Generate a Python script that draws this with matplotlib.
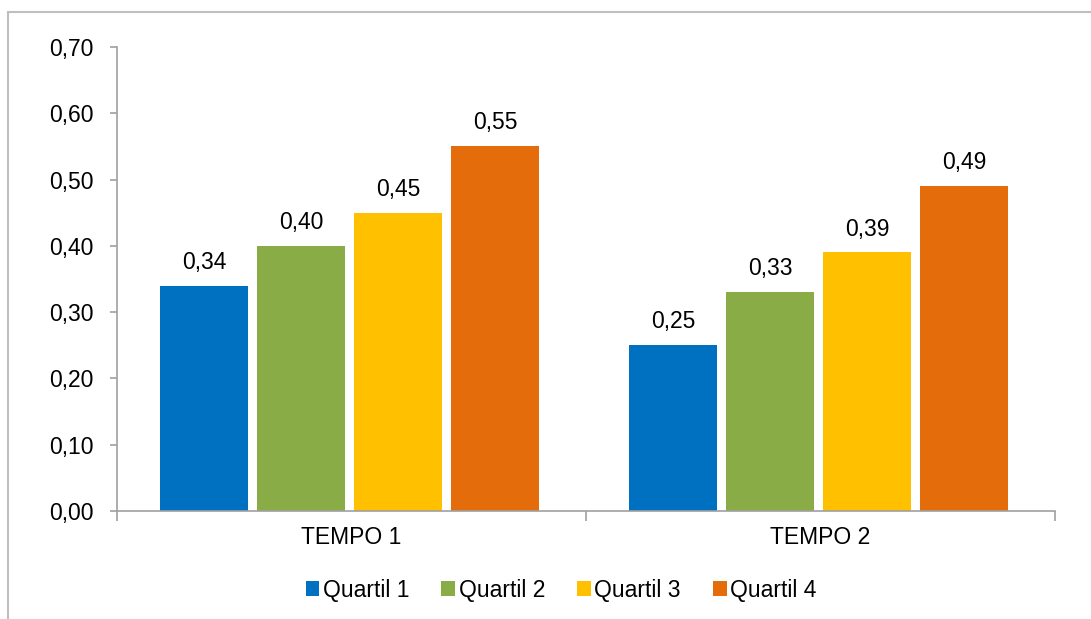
import matplotlib.pyplot as plt
import numpy as np
from matplotlib.patches import Rectangle

plt.rcParams['font.family'] = ['Liberation Sans', 'DejaVu Sans']

# data
categorias = ['TEMPO 1', 'TEMPO 2']
series = ['Quartil 1', 'Quartil 2', 'Quartil 3', 'Quartil 4']
q1 = [0.34, 0.25]
q2 = [0.40, 0.33]
q3 = [0.45, 0.39]
q4 = [0.55, 0.49]
cores = ['#0070C0', '#8AAC46', '#FFC000', '#E46C0A']

FS = 16.5
W, H = 1091, 619


def fmt(v):
    return f'{v:.2f}'.replace('.', ',')


fig = plt.figure(figsize=(W / 100, H / 100), dpi=100)
ax = fig.add_axes([117 / W, 1 - 511 / H, (1055 - 117) / W, (511 - 47) / H])

# border of the chart area
fig.patches.append(Rectangle((8 / W, -0.1), 1.2, 1 - 12 / H + 0.1,
                             transform=fig.transFigure, fill=False,
                             edgecolor='#BFBFBF', linewidth=1.5))

x = np.arange(len(categorias))
largura = 0.188
passo = 0.207
for i, (vals, nome) in enumerate(zip([q1, q2, q3, q4], series)):
    pos = x + (i - 1.5) * passo - 0.004
    barras = ax.bar(pos, vals, largura, color=cores[i], label=nome)
    for b, v in zip(barras, vals):
        ax.text(b.get_x() + b.get_width() / 2, v + 0.018, fmt(v),
                ha='center', va='bottom', fontsize=FS)

ax.set_xlim(-0.5, 1.5)
ax.set_ylim(0, 0.70)
ax.set_yticks(np.arange(0, 0.71, 0.1))
ax.set_yticklabels([fmt(v) for v in np.arange(0, 0.71, 0.1)], fontsize=FS)
ax.set_xticks(x)
ax.set_xticklabels(categorias, fontsize=FS)
ax.tick_params(axis='x', length=0, pad=11)
ax.tick_params(axis='y', length=5, color='#A0A0A0', width=1.2, pad=12)
ax.set_xticks([-0.5, 0.5, 1.5], minor=True)
ax.tick_params(axis='x', which='minor', length=7, color='#A0A0A0', width=1.2)

for s in ['top', 'right']:
    ax.spines[s].set_visible(False)
for s in ['left', 'bottom']:
    ax.spines[s].set_color('#A0A0A0')
    ax.spines[s].set_linewidth(1.2)

fig.legend(loc='center', bbox_to_anchor=(561 / W, 1 - 590 / H),
           ncol=4, frameon=False, fontsize=FS, handlelength=0.6, handleheight=0.6,
           handletextpad=0.15, columnspacing=1.4)

fig.savefig('out.png', dpi=100)
